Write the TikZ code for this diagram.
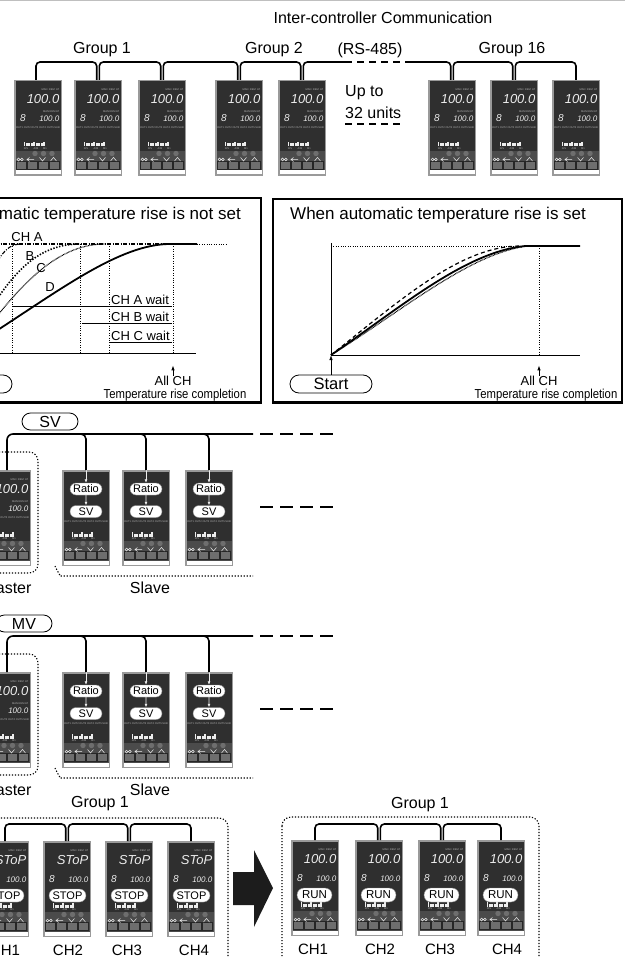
\documentclass[tikz,border=0pt]{standalone}
\usepackage{fontspec}
\setmainfont{Liberation Sans}
\usepackage{graphicx}
\usetikzlibrary{positioning, arrows.meta, shapes.misc}

\definecolor{ctrlface}{HTML}{2F2F2F}
\definecolor{ctrlframe}{HTML}{9A9A9A}
\definecolor{ctrlpanel}{HTML}{4B4B4B}
\definecolor{ctrlkey}{HTML}{6E6E6E}
\definecolor{segwhite}{HTML}{EDEDED}
\definecolor{arrowfill}{HTML}{1C1C1C}

% one controller, local pixel frame 48 x 96
\newcommand{\ctrlbase}{%
  \fill[ctrlframe] (0,0) rectangle (48,96);
  \fill[ctrlface] (1.5,1.5) rectangle (46.5,71);
  \fill[ctrlpanel] (1.5,71) rectangle (46.5,90.5);
  \fill[white] (1.5,90.5) rectangle (46.5,94.5);
  \foreach \bx in {21,29.5,38} \fill[ctrlkey] (\bx,73.5) circle (2.7);
  \foreach \kx in {2,13,24,35}
    \filldraw[fill=ctrlkey, draw=black!85, line width=0.4pt] (\kx,81) rectangle ++(10.5,8.5);
  \draw[keysym] (4.5,79.5) circle (1.4) (7.8,79.5) circle (1.4);
  \draw[keysym] (15.5,77.5) -- (13,79.5) -- (15.5,81.5) (13,79.5) -- (20,79.5);
  \draw[keysym] (25.5,77.5) -- (28.5,81) -- (31.5,77.5);
  \draw[keysym] (36.5,81) -- (39.5,77.5) -- (42.5,81);
  \foreach \i/\hh in {0/4.5,1/3,2/3,3/3,4/4.5,5/3,6/3,7/3,8/4.5}
    \fill[segwhite] (9.5+2.45*\i,66.5) rectangle ++(1.9,-\hh);
  \node[tinytxt] at (12,69) {R/S};
  \node[tinytxt] at (22,69) {A/M};
  \node[tinytxt] at (31,69) {M1};
}

\tikzset{
  lbl/.style={inner sep=0pt, font=\fontsize{16}{19}\selectfont},
  ttl/.style={inner sep=0pt, font=\fontsize{17}{20}\selectfont},
  smalltxt/.style={inner sep=0pt, font=\fontsize{13}{15}\selectfont},
  chlbl/.style={inner sep=0pt, font=\fontsize{15}{18}\selectfont},
  tinytxt/.style={inner sep=0pt, text=black!30, font=\fontsize{2.6}{3}\selectfont},
  segbig/.style={inner sep=0pt, text=segwhite, font=\fontsize{13}{15}\selectfont\itshape},
  segmid/.style={inner sep=0pt, text=segwhite, font=\fontsize{10}{12}\selectfont\itshape},
  segsmall/.style={inner sep=0pt, text=segwhite, font=\fontsize{8}{10}\selectfont\itshape},
  badge/.style={rounded rectangle, draw=black!45, line width=0.4pt, fill=white, inner sep=0pt, font=\fontsize{11}{13}\selectfont},
  innerarrow/.style={draw=segwhite, line width=0.8pt, -{Latex[length=3.5pt, width=3pt]}},
  keysym/.style={draw=segwhite, line width=0.5pt},
  bustag/.style={rounded rectangle, draw, line width=0.8pt, fill=white, inner sep=0pt, minimum width=56pt, minimum height=17pt, font=\fontsize{16}{19}\selectfont},
  startoval/.style={rounded rectangle, draw, line width=0.8pt, inner sep=0pt, minimum width=82pt, minimum height=18pt, font=\fontsize{16.5}{19}\selectfont},
  bus/.style={line width=1.6pt, rounded corners=4pt},
  dashbus/.style={line width=1.4pt, dash pattern=on 13pt off 7pt},
  grpbox/.style={line width=1.1pt, dash pattern=on 1.2pt off 1.8pt, rounded corners=9pt},
  chartbox/.style={line width=2.4pt},
  axisline/.style={line width=0.9pt},
  waitline/.style={line width=0.8pt},
  guide/.style={line width=0.8pt, dash pattern=on 1pt off 1.4pt},
  curveA/.style={line width=1.1pt, dash pattern=on 4pt off 1.5pt on 1pt off 1.5pt},
  curveB/.style={line width=1.6pt, dash pattern=on 1.4pt off 1.6pt},
  curveC/.style={line width=1.2pt, dash pattern=on 0.7pt off 0.7pt},
  curveD/.style={line width=1.8pt},
  uparrow/.style={line width=0.8pt, -{Latex[length=5pt, width=3.5pt]}},
  pics/ctrl/.style={code={
    \ctrlbase
    \coordinate (-top) at (24,0);
    \node[tinytxt, anchor=east] at (45.5,9.5) {MAN\ \ REM\ \ AT};
    \node[segbig, anchor=east] at (45.5,19.5) {100.0};
    \node[segmid] at (9,38) {8};
    \node[tinytxt, anchor=east] at (45.5,32) {MAN REM AT};
    \node[segsmall, anchor=east] at (45.5,38.5) {100.0};
    \node[tinytxt] at (24,48) {OUT1 OUT2 OUT3 OUT4 OUT5 SUB};
  }},
  pics/ctrlratio/.style={code={
    \ctrlbase
    \coordinate (-top) at (24,0);
    \node[badge, minimum width=32pt, minimum height=12pt] (-ratio) at (24,19) {Ratio};
    \node[badge, minimum width=32pt, minimum height=12pt] (-sv) at (24,41.5) {SV};
    \draw[innerarrow] (-top) -- (-ratio);
    \draw[innerarrow] (-ratio) -- (-sv);
    \node[tinytxt] at (24,52) {OUT1 OUT2 OUT3 OUT4 OUT5 SUB};
  }},
  pics/ctrlstop/.style={code={
    \ctrlbase
    \coordinate (-top) at (24,0);
    \node[tinytxt, anchor=east] at (45.5,9.5) {MAN\ \ REM\ \ AT};
    \node[segbig, anchor=east] at (45.5,19.5) {SToP};
    \node[segmid] at (9,38) {8};
    \node[segsmall, anchor=east] at (45.5,38.5) {100.0};
    \node[badge, minimum width=37pt, minimum height=13pt, font=\fontsize{11}{13}\selectfont] (-state) at (24.5,54.5) {STOP};
  }},
  pics/ctrlrun/.style={code={
    \ctrlbase
    \coordinate (-top) at (24,0);
    \node[tinytxt, anchor=east] at (45.5,9.5) {MAN\ \ REM\ \ AT};
    \node[segbig, anchor=east] at (45.5,19.5) {100.0};
    \node[segmid] at (9,38) {8};
    \node[segsmall, anchor=east] at (45.5,38.5) {100.0};
    \node[badge, minimum width=35pt, minimum height=14pt, font=\fontsize{11.5}{13}\selectfont] (-state) at (23.5,55) {RUN};
  }}
}

\begin{document}
\begin{tikzpicture}[x=1pt, y=-1pt]
  \useasboundingbox (0,0) rectangle (625,957);
  \clip (0,0) rectangle (625,957);
  \fill[white] (0,0) rectangle (625,957);
  \draw[black!25, line width=0.8pt] (0,0.8) -- (625,0.8);

  % inter-controller communication
  \node[lbl] (title) at (383,18) {Inter-controller Communication};
  \node[lbl] (grp1) at (102,50) {Group 1};
  \node[lbl] (grp2) at (274,50) {Group 2};
  \node[lbl] (rs) at (370,50) {(RS-485)};
  \node[lbl] (grp16) at (512,50) {Group 16};
  \node[lbl, anchor=west] (upto) at (345,93) {Up to};
  \node[lbl, anchor=west] (units) at (345,113) {32 units};
  \draw[line width=1.4pt, dash pattern=on 7pt off 5pt] ([yshift=-5pt]units.south west) -- ([yshift=-5pt]units.south east);

  \pic (g1a) at (14,80) {ctrl};
  \pic (g1b) at (74,80) {ctrl};
  \pic (g1c) at (138,80) {ctrl};
  \pic (g2a) at (215,80) {ctrl};
  \pic (g2b) at (278,80) {ctrl};
  \pic (g16a) at (428,80) {ctrl};
  \pic (g16b) at (490,80) {ctrl};
  \pic (g16c) at (552,80) {ctrl};

  \coordinate (rsl) at (345,62);
  \coordinate (rsr) at (408,62);
  \draw[bus] ([xshift=-2pt]g1a-top) -- ++(0,-18) -| ([xshift=-1.3pt]g1b-top);
  \draw[bus] ([xshift=1.3pt]g1b-top) -- ++(0,-18) -| ([xshift=-1.3pt]g1c-top);
  \draw[bus] ([xshift=1.3pt]g1c-top) -- ++(0,-18) -| ([xshift=-1.3pt]g2a-top);
  \draw[bus] ([xshift=1.3pt]g2a-top) -- ++(0,-18) -| ([xshift=-1.3pt]g2b-top);
  \draw[bus] ([xshift=1.3pt]g2b-top) -- ++(0,-18) -- (rsl);
  \draw[line width=1.4pt, dash pattern=on 7pt off 5pt] (rsl) -- (rsr);
  \draw[bus] (rsr) -| ([xshift=-1.3pt]g16a-top);
  \draw[bus] ([xshift=1.3pt]g16a-top) -- ++(0,-18) -| ([xshift=-1.3pt]g16b-top);
  \draw[bus] ([xshift=1.3pt]g16b-top) -- ++(0,-18) -| (g16c-top);

  % not set
  \draw[chartbox] (-60,198) rectangle (261,402.5);
  \node[ttl, anchor=east] (ttlL) at (241,215) {When automatic temperature rise is not set};
  \coordinate (origL) at (-29,353);
  \draw[axisline] (origL) -- (196,353);
  \draw[guide] (12,244) -- (12,353);
  \draw[guide] (80,244) -- (80,353);
  \draw[guide] (109,244) -- (109,353);
  \draw[guide] (173,244) -- (173,353);
  \draw[curveA] (-29,244) -- (197,244);
  \draw[guide] (197,244) -- (227,244);
  \draw[curveA] (-15,290) .. controls (-5,262) and (5,244) .. (20,244);
  \draw[curveB] (-10,310) .. controls (15,270) and (40,244) .. (80,244);
  \draw[curveC] (-10,325) .. controls (25,280) and (60,244) .. (105,244);
  \draw[curveD] (-10,335) .. controls (60,290) and (120,244) .. (170,244) -- (197,244);
  \node[smalltxt] (lblA) at (27,237.5) {CH A};
  \node[smalltxt] (lblB) at (30,256.5) {B};
  \node[smalltxt] (lblC) at (41,268.5) {C};
  \node[smalltxt] (lblD) at (50,287) {D};
  \draw[waitline] (13,306) -- (172,306);
  \draw[waitline] (82,323) -- (172,323);
  \draw[waitline] (109,342) -- (172,342);
  \node[smalltxt, anchor=south west] (waitA) at (111,305) {CH A wait};
  \node[smalltxt, anchor=south west] (waitB) at (111,322) {CH B wait};
  \node[smalltxt, anchor=south west] (waitC) at (111,341) {CH C wait};
  \node[startoval] (startL) at (-29,384) {Start};
  \draw[uparrow] (startL) -- (origL);
  \node[smalltxt, anchor=base] (allL) at (173,385.5) {All CH};
  \draw[uparrow] (allL.north) -- ++(0,-10.5);
  \node[smalltxt, anchor=base] (complL) at (175,398.5) {\scalebox{0.87}[1]{Temperature rise completion}};

  % set
  \draw[chartbox] (273,199) rectangle (622,402.5);
  \node[ttl, anchor=west] (ttlR) at (290,215) {When automatic temperature rise is set};
  \coordinate (origR) at (331,355);
  \draw[axisline] (331,243) -- (origR) -- (580,355);
  \draw[guide] (331,246) -- (539,246);
  \draw[guide] (539,246) -- (539,355);
  \draw[line width=1.2pt, dash pattern=on 4pt off 3pt] (origR) .. controls (398,302) and (460,246) .. (520,246);
  \draw[curveC] (origR) .. controls (402,311) and (470,253) .. (528,246);
  \draw[curveD] (origR) .. controls (400,308) and (465,252) .. (525,246) -- (580,246);
  \node[startoval] (startR) at (331,384) {Start};
  \draw[uparrow] (startR) -- (origR);
  \node[smalltxt, anchor=base] (allR) at (539,385.5) {All CH};
  \draw[uparrow] (allR.north) -- ++(0,-10.5);
  \node[smalltxt, anchor=base] (complR) at (546,398.5) {\scalebox{0.87}[1]{Temperature rise completion}};

  % SV link
  \node[bustag] (svtag) at (50,421.5) {SV};
  \pic (svm) at (-17,470) {ctrl};
  \pic (svs1) at (62,470) {ctrlratio};
  \pic (svs2) at (122,470) {ctrlratio};
  \pic (svs3) at (185,470) {ctrlratio};
  \coordinate (svend) at (253,434);
  \coordinate (svdash1) at (260,434);
  \coordinate (svdash2) at (260,507);
  \draw[bus, rounded corners=6pt] (svm-top) |- (svend);
  \draw[bus, rounded corners=5pt] (svs1-top) ++(-14,-36) -| (svs1-top);
  \draw[bus, rounded corners=5pt] (svs2-top) ++(-14,-36) -| (svs2-top);
  \draw[bus, rounded corners=5pt] (svs3-top) ++(-14,-36) -| (svs3-top);
  \draw[dashbus] (svdash1) -- ++(77,0);
  \draw[dashbus] (svdash2) -- ++(77,0);
  \draw[grpbox] (-60,452) rectangle (38,573);
  \draw[grpbox] (55,566) .. controls (58,573) and (61,576) .. (69,576) -- (253,576);
  \node[lbl] (svmaster) at (7,588) {Master};
  \node[lbl] (svslave) at (150,588) {Slave};

  % MV link
  \node[bustag] (mvtag) at (24,623.5) {MV};
  \pic (mvm) at (-17,672) {ctrl};
  \pic (mvs1) at (62,672) {ctrlratio};
  \pic (mvs2) at (122,672) {ctrlratio};
  \pic (mvs3) at (185,672) {ctrlratio};
  \coordinate (mvend) at (253,636);
  \coordinate (mvdash1) at (260,636);
  \coordinate (mvdash2) at (260,709);
  \draw[bus, rounded corners=6pt] (mvm-top) |- (mvend);
  \draw[bus, rounded corners=5pt] (mvs1-top) ++(-14,-36) -| (mvs1-top);
  \draw[bus, rounded corners=5pt] (mvs2-top) ++(-14,-36) -| (mvs2-top);
  \draw[bus, rounded corners=5pt] (mvs3-top) ++(-14,-36) -| (mvs3-top);
  \draw[dashbus] (mvdash1) -- ++(77,0);
  \draw[dashbus] (mvdash2) -- ++(77,0);
  \draw[grpbox] (-60,654) rectangle (38,775);
  \draw[grpbox] (55,768) .. controls (58,775) and (61,778) .. (69,778) -- (253,778);
  \node[lbl] (mvmaster) at (7,790) {Master};
  \node[lbl] (mvslave) at (150,790) {Slave};

  % stop -> run
  \node[lbl] (grpL) at (100,804) {Group 1};
  \draw[grpbox] (-60,818) rectangle (228,975);
  \pic (st1) at (-19,841) {ctrlstop};
  \pic (st2) at (43,841) {ctrlstop};
  \pic (st3) at (105,841) {ctrlstop};
  \pic (st4) at (167,841) {ctrlstop};
  \draw[bus] (st1-top) -- ++(0,-17) -| ([xshift=-1.3pt]st2-top);
  \draw[bus] ([xshift=1.3pt]st2-top) -- ++(0,-17) -| ([xshift=-1.3pt]st3-top);
  \draw[bus] ([xshift=1.3pt]st3-top) -- ++(0,-17) -| (st4-top);
  \node[chlbl] (stl1) at (5,950) {CH1};
  \node[chlbl] (stl2) at (68,950) {CH2};
  \node[chlbl] (stl3) at (127,950) {CH3};
  \node[chlbl] (stl4) at (194,950) {CH4};

  \fill[arrowfill] (233,872) -- (254,872) -- (254,850) -- (273,888) -- (254,927) -- (254,905) -- (233,905) -- cycle;

  \node[lbl] (grpR) at (420,805) {Group 1};
  \draw[grpbox] (282,817) rectangle (539,975);
  \pic (rn1) at (291,840) {ctrlrun};
  \pic (rn2) at (355,840) {ctrlrun};
  \pic (rn3) at (418,840) {ctrlrun};
  \pic (rn4) at (477,840) {ctrlrun};
  \draw[bus] (rn1-top) -- ++(0,-16) -| ([xshift=-1.3pt]rn2-top);
  \draw[bus] ([xshift=1.3pt]rn2-top) -- ++(0,-16) -| ([xshift=-1.3pt]rn3-top);
  \draw[bus] ([xshift=1.3pt]rn3-top) -- ++(0,-16) -| (rn4-top);
  \node[chlbl] (rnl1) at (313,949) {CH1};
  \node[chlbl] (rnl2) at (380,949) {CH2};
  \node[chlbl] (rnl3) at (440,949) {CH3};
  \node[chlbl] (rnl4) at (507,949) {CH4};
\end{tikzpicture}
\end{document}
